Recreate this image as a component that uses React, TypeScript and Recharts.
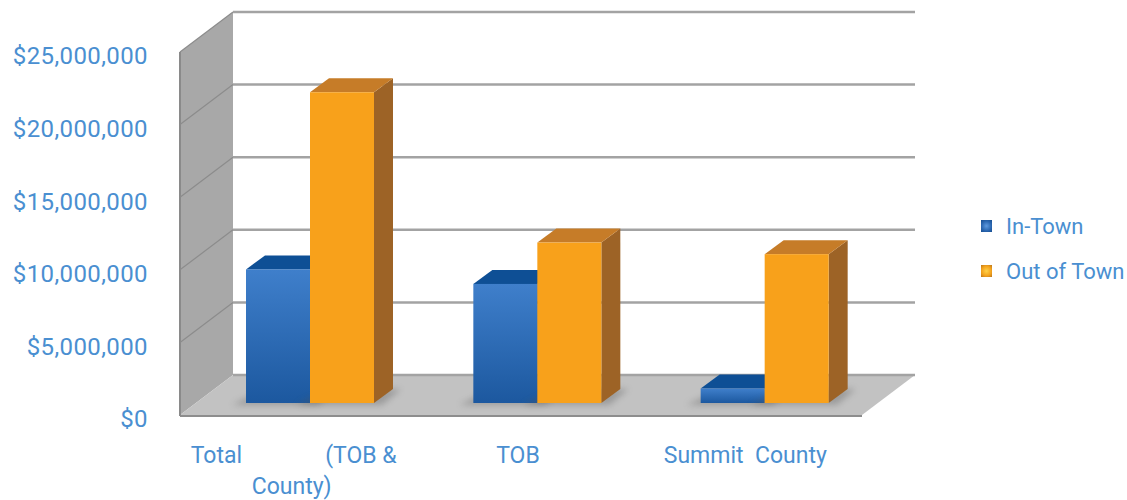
import { BarChart, Bar, XAxis, YAxis, ReferenceArea } from 'recharts';

const categories = ['Total (TOB & County)', 'TOB', 'Summit County'];
const inTown = [9200000, 8200000, 1000000];
const outOfTown = [21400000, 11050000, 10250000];
const yTicks = [0, 5000000, 10000000, 15000000, 20000000, 25000000];
const seriesNames = ['In-Town', 'Out of Town'];

const data = categories.map((name, i) => ({ name, inTown: inTown[i], outOfTown: outOfTown[i] }));

const TEXT = '#4a8fd1';
const FONT = 'Roboto, sans-serif';
// bar depth and room offsets, relative to the plane the bars stand in
const DX = 19;
const DY = 14;
const FRONT = { dx: -16, dy: 12 };
const BACK = { dx: 37, dy: -28 };

const money = (v: number) => '$' + v.toLocaleString('en-US');

function Bar3D(props: any) {
  const { x, y, width: w, height: h, face, top, side } = props;
  if (!(h > 0)) return null;
  return (
    <g>
      <polygon
        points={`${x - 14},${y + h + 2} ${x + w + 8},${y + h + 2} ${x + w + 8 + DX},${y + h - DY} ${x + DX},${y + h - DY}`}
        fill="#555"
        opacity={0.35}
        filter="url(#soft)"
      />
      <polygon points={`${x + w},${y} ${x + w + DX},${y - DY} ${x + w + DX},${y + h - DY} ${x + w},${y + h}`} fill={side} />
      <polygon points={`${x},${y} ${x + DX},${y - DY} ${x + w + DX},${y - DY} ${x + w},${y}`} fill={top} />
      <rect x={x} y={y} width={w} height={h} fill={face} />
    </g>
  );
}

function Room(props: any) {
  const { x, y, width: w, height: h } = props;
  const max = yTicks[yTicks.length - 1];
  const fx = x + FRONT.dx;
  const bx = x + BACK.dx;
  const floorF = y + h + FRONT.dy;
  const floorB = y + h + BACK.dy;
  return (
    <g>
      <polygon
        points={`${fx},${y + FRONT.dy} ${bx},${y + BACK.dy} ${bx},${floorB} ${fx},${floorF}`}
        fill="#a8a8a8"
      />
      <polygon
        points={`${fx},${floorF} ${bx},${floorB} ${x + w + BACK.dx},${floorB} ${x + w + FRONT.dx},${floorF}`}
        fill="#c2c2c2"
      />
      <line x1={fx} y1={floorF + 1} x2={x + w + FRONT.dx} y2={floorF + 1} stroke="#8d8d8d" strokeWidth={2} />
      <line x1={fx} y1={y + FRONT.dy} x2={fx} y2={floorF + 1} stroke="#8a8a8a" strokeWidth={2} />
      {yTicks.map((t) => {
        const gy = y + h * (1 - t / max);
        return (
          <g key={t}>
            {t > 0 && (
              <line x1={fx} y1={gy + FRONT.dy} x2={bx} y2={gy + BACK.dy} stroke="#8c8c8c" strokeWidth={1.2} />
            )}
            <line x1={bx} y1={gy + BACK.dy} x2={x + w + BACK.dx} y2={gy + BACK.dy} stroke="#a3a3a3" strokeWidth={2.5} />
          </g>
        );
      })}
    </g>
  );
}

function YTick(props: any) {
  const { y, payload } = props;
  return (
    <text
      x={148}
      y={y + 16}
      dy="0.35em"
      textAnchor="end"
      fill={TEXT}
      fontFamily={FONT}
      fontSize={24}
      letterSpacing={0.4}
    >
      {money(payload.value)}
    </text>
  );
}

function XTick(props: any) {
  const { x, payload } = props;
  const cx = x + FRONT.dx;
  const common = { fill: TEXT, fontFamily: FONT, fontSize: 23 };
  if (payload.index === 0) {
    return (
      <g>
        <text x={cx - 103} y={463} textAnchor="start" {...common}>Total</text>
        <text x={cx + 103} y={463} textAnchor="end" {...common}>(TOB &amp;</text>
        <text x={cx - 2} y={494} textAnchor="middle" {...common}>County)</text>
      </g>
    );
  }
  const label = payload.value === 'Summit County' ? 'Summit  County' : payload.value;
  return (
    <text x={cx - 3} y={463} textAnchor="middle" style={{ whiteSpace: 'pre' }} {...common}>
      {label}
    </text>
  );
}

const legendIcons = [
  'radial-gradient(circle, #5d9ae0 0%, #2a66b0 60%, #164d8f 100%)',
  'radial-gradient(circle, #ffd24a 0%, #f3a21c 60%, #b9751d 100%)',
];

export default function App() {
  return (
    <div style={{ position: 'absolute', left: 0, top: 0, width: 1127, height: 500, background: '#fff' }}>
      <BarChart
        width={1127}
        height={500}
        data={data}
        margin={{ top: 40, right: 249, bottom: 0, left: 0 }}
        barSize={64}
        barGap={0}
      >
        <defs>
          <linearGradient id="blueFace" x1="0" y1="0" x2="0" y2="1">
            <stop offset="0%" stopColor="#3f7fcb" />
            <stop offset="100%" stopColor="#1c589f" />
          </linearGradient>
          <filter id="soft" x="-20%" y="-50%" width="140%" height="200%">
            <feGaussianBlur stdDeviation="3" />
          </filter>
        </defs>
        <XAxis dataKey="name" height={97} axisLine={false} tickLine={false} tick={<XTick />} interval={0} />
        <YAxis
          width={196}
          domain={[0, 25000000]}
          ticks={yTicks}
          axisLine={false}
          tickLine={false}
          tick={<YTick />}
        />
        <ReferenceArea y1={0} y2={25000000} shape={<Room />} ifOverflow="visible" />
        <Bar
          dataKey="inTown"
          name={seriesNames[0]}
          isAnimationActive={false}
          shape={(p: any) => <Bar3D {...p} face="url(#blueFace)" top="#0e4f95" side="#123f73" />}
        />
        <Bar
          dataKey="outOfTown"
          name={seriesNames[1]}
          isAnimationActive={false}
          shape={(p: any) => <Bar3D {...p} face="#f8a11b" top="#c67c28" side="#9d6326" />}
        />
      </BarChart>
      {seriesNames.map((s, i) => (
        <div key={s}>
          <div
            style={{
              position: 'absolute',
              left: 981,
              top: 220 + i * 45,
              width: 11,
              height: 12,
              background: legendIcons[i],
            }}
          />
          <div
            style={{
              position: 'absolute',
              left: 1006,
              top: 213 + i * 45,
              lineHeight: '28px',
              fontFamily: FONT,
              fontSize: 22,
              color: TEXT,
              whiteSpace: 'nowrap',
            }}
          >
            {s}
          </div>
        </div>
      ))}
    </div>
  );
}
